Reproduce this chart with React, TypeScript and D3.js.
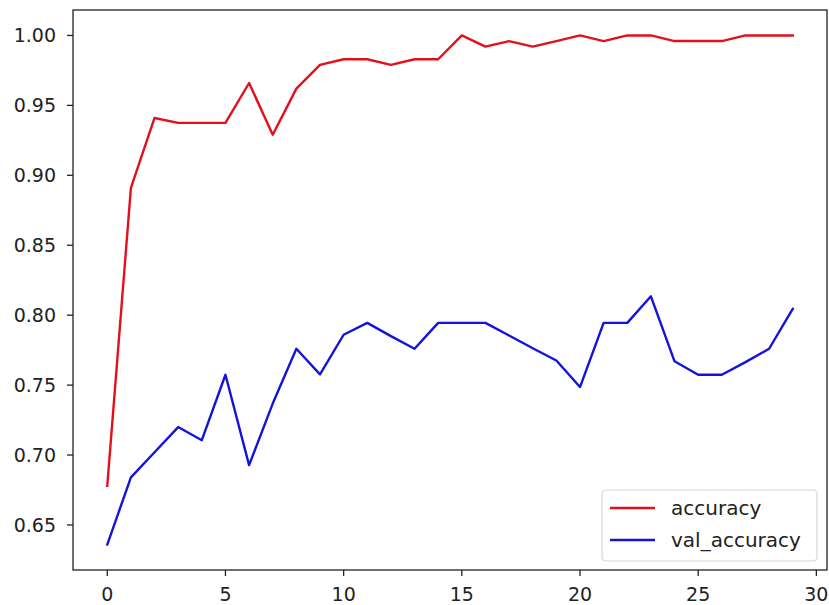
import React from 'react';
import * as d3 from 'd3';

const epochs = d3.range(30);

const accuracy = [
  0.678, 0.891, 0.941, 0.9375, 0.9375, 0.9375, 0.966, 0.929, 0.962, 0.979,
  0.983, 0.983, 0.979, 0.983, 0.983, 1.0, 0.992, 0.996, 0.992, 0.996,
  1.0, 0.996, 1.0, 1.0, 0.996, 0.996, 0.996, 1.0, 1.0, 1.0,
];

const valAccuracy = [
  0.636, 0.684, 0.702, 0.72, 0.7106, 0.7574, 0.6928, 0.7368, 0.776, 0.7577,
  0.786, 0.7945, 0.785, 0.776, 0.7945, 0.7945, 0.7945, 0.7855, 0.7764, 0.7676,
  0.7486, 0.7945, 0.7945, 0.8135, 0.767, 0.7574, 0.7574, 0.7664, 0.776, 0.8045,
];

const xTicks = [0, 5, 10, 15, 20, 25, 30];
const yTicks = [0.65, 0.7, 0.75, 0.8, 0.85, 0.9, 0.95, 1.0];

const seriesNames = ['accuracy', 'val_accuracy'];
const seriesColors = ['#e3101c', '#1414d8'];

const W = 829;
const H = 605;
const left = 73;
const right = 827;
const top = 10;
const bottom = 570;
const font = 'DejaVu Sans, sans-serif';

const App: React.FC = () => {
  const x = d3.scaleLinear().domain([-1.45, 30.45]).range([left, right]);
  const allVals = accuracy.concat(valAccuracy);
  const lo = d3.min(allVals)!;
  const hi = d3.max(allVals)!;
  const pad = (hi - lo) * 0.05;
  const y = d3.scaleLinear().domain([lo - pad, hi + pad]).range([bottom, top]);

  const line = d3.line<number>()
    .x((_, i) => x(epochs[i]))
    .y((d) => y(d));

  const series = [accuracy, valAccuracy];

  return <div style={{position: 'absolute', left: 0, top: 0}}>
    <svg width={W} height={H} style={{display: 'block', background: '#fff'}}>
      {series.map((s, i) => (
        <path key={i} d={line(s)!} fill="none" stroke={seriesColors[i]}
              strokeWidth={2.4} strokeLinejoin="round" strokeLinecap="square"/>
      ))}
      <rect x={left} y={top} width={right - left} height={bottom - top}
            fill="none" stroke="#222" strokeWidth={1.3}/>
      {xTicks.map((t) => (
        <g key={t} transform={`translate(${x(t)},${bottom})`}>
          <line y2={6} stroke="#222" strokeWidth={1.3}/>
          <text y={31} textAnchor="middle" fontFamily={font} fontSize={19}
                fill="#222">{t}</text>
        </g>
      ))}
      {yTicks.map((t) => (
        <g key={t} transform={`translate(${left},${y(t)})`}>
          <line x2={-6} stroke="#222" strokeWidth={1.3}/>
          <text x={-17} dy="0.36em" textAnchor="end" fontFamily={font} fontSize={19}
                fill="#222">{t.toFixed(2)}</text>
        </g>
      ))}
      <g transform="translate(602,490)">
        <rect width={215} height={71} rx={4} fill="#fff" fillOpacity={0.8}
              stroke="#d6d6d6" strokeWidth={1.2}/>
        {seriesNames.map((n, i) => (
          <g key={n} transform={`translate(0,${18 + i * 32})`}>
            <line x1={8} x2={53} stroke={seriesColors[i]} strokeWidth={2.4}/>
            <text x={69} dy="0.36em" fontFamily={font} fontSize={20} fill="#222">{n}</text>
          </g>
        ))}
      </g>
    </svg>
  </div>;
};

export default App;
